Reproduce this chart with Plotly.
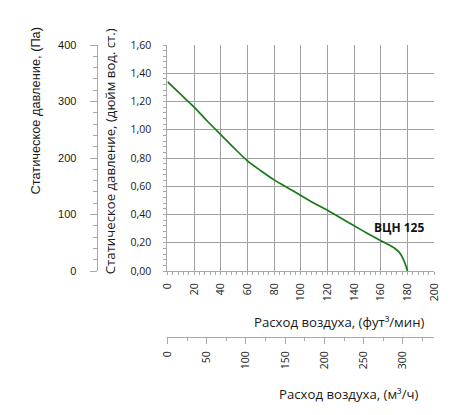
import plotly.graph_objects as go

# ---- data ----
flow_cfm = [0, 10, 20, 30, 40, 50, 60, 70, 80, 90, 100, 110, 120, 130, 140,
            150, 160, 165, 170, 174, 177, 179, 180]
pressure_inwc = [1.34, 1.25, 1.16, 1.06, 0.965, 0.87, 0.78, 0.71, 0.645, 0.59,
                 0.535, 0.48, 0.43, 0.375, 0.32, 0.266, 0.215, 0.19, 0.163,
                 0.13, 0.08, 0.03, 0.0]
series_name = "ВЦН 125"

CFM_TO_M3H = 1.699
INWC_TO_PA = 249.09
flow_m3h = [v * CFM_TO_M3H for v in flow_cfm]
pressure_pa = [v * INWC_TO_PA for v in pressure_inwc]

# ---- layout geometry (page has an 8px body margin) ----
OFF = 8
W, H = 450 - OFF, 415 - OFF
ML, MR, MT, MB = 4, 3, 45 - OFF, 10
PW, PH = W - ML - MR, H - MT - MB


def px(xp):
    return (xp - OFF - ML) / PW


def py(yp):
    return (H - MB - (yp - OFF)) / PH


x_dom = [px(165), px(440)]
y_dom = [py(271), 1.0]

GRID = "#a0a0a0"
LINE = "#a8a8a8"
TXT = "#1a1a1a"
GREEN = "#1a7a1a"

fig = go.Figure()
fig.add_trace(go.Scatter(x=flow_cfm, y=pressure_inwc, mode="lines",
                         line=dict(color=GREEN, width=1.7, shape="spline", smoothing=0.6),
                         name=series_name, showlegend=False, hoverinfo="x+y"))
# companion traces that carry the secondary axes
fig.add_trace(go.Scatter(x=flow_m3h, y=pressure_inwc, xaxis="x2", yaxis="y",
                         mode="lines", line=dict(width=0), opacity=0,
                         showlegend=False, hoverinfo="skip"))
fig.add_trace(go.Scatter(x=flow_cfm, y=pressure_pa, xaxis="x", yaxis="y2",
                         mode="lines", line=dict(width=0), opacity=0,
                         showlegend=False, hoverinfo="skip"))

tick_font_main = dict(family="Open Sans", size=10.5, color=TXT)

fig.update_layout(
    width=W, height=H,
    margin=dict(l=ML, r=MR, t=MT, b=MB, pad=0),
    paper_bgcolor="white", plot_bgcolor="white",
    separators=", ",
    font=dict(family="Open Sans", size=12, color=TXT),
    xaxis=dict(domain=x_dom, range=[0, 200], dtick=20, tick0=0,
               showgrid=True, gridcolor=GRID, gridwidth=1,
               showline=True, linecolor=LINE, linewidth=1, zeroline=False,
               ticks="outside", ticklen=3, tickcolor=LINE, tickangle=-90,
               tickfont=tick_font_main, ticklabelstandoff=4,
               minor=dict(dtick=4, ticks="outside", ticklen=3, tickcolor=LINE,
                          showgrid=False),
               anchor="y"),
    yaxis=dict(domain=y_dom, range=[0, 1.6], dtick=0.2, tick0=0, tickformat=".2f",
               showgrid=True, gridcolor=GRID, gridwidth=1,
               showline=True, linecolor=LINE, linewidth=1, zeroline=False,
               ticks="outside", ticklen=3, tickcolor=LINE,
               tickfont=tick_font_main, ticklabelstandoff=10,
               minor=dict(dtick=0.04, ticks="outside", ticklen=3, tickcolor=LINE,
                          showgrid=False),
               anchor="x"),
    yaxis2=dict(overlaying="y", anchor="free", position=px(92), side="left",
                range=[0, 400], dtick=100, tick0=0,
                showgrid=False, showline=True, linecolor=LINE, linewidth=1,
                zeroline=False, ticks="outside", ticklen=7, tickcolor=LINE,
                tickfont=dict(family="Liberation Sans", size=11, color=TXT),
                ticklabelstandoff=11,
                minor=dict(dtick=20, ticks="outside", ticklen=4, tickcolor=LINE)),
    xaxis2=dict(overlaying="x", anchor="free", position=py(337), side="bottom",
                range=[0, 200 * CFM_TO_M3H], dtick=50, tick0=0,
                showgrid=False, showline=True, linecolor=LINE, linewidth=1,
                zeroline=False, ticks="outside", ticklen=6, tickcolor=LINE,
                tickangle=-90, tickfont=tick_font_main, ticklabelstandoff=3,
                minor=dict(dtick=25, ticks="outside", ticklen=3, tickcolor=LINE)),
)

annos = [
    dict(text="Статическое давление, (Па)", x=px(29), y=py(111), textangle=-90,
         font=dict(family="Liberation Sans", size=12.8, color=TXT)),
    dict(text="Статическое давление, (дюйм вод. ст.)", x=px(106), y=py(151),
         textangle=-90, font=dict(family="Open Sans", size=13.2, color=TXT)),
    dict(text="Расход воздуха, (фут³/мин)", x=px(342), y=py(322),
         font=dict(family="Open Sans", size=13.2, color=TXT)),
    dict(text="Расход воздуха, (м³/ч)", x=px(352), y=py(394),
         font=dict(family="Open Sans", size=13.2, color=TXT)),
]
for a in annos:
    fig.add_annotation(xref="paper", yref="paper", showarrow=False,
                       xanchor="center", yanchor="middle", **a)

fig.add_annotation(text="<b>" + series_name + "</b>", x=173.5, y=0.31,
                   xref="x", yref="y", showarrow=False,
                   xanchor="center", yanchor="middle",
                   font=dict(family="Open Sans", size=12, color="#111111"))

fig.write_html("out.html")
